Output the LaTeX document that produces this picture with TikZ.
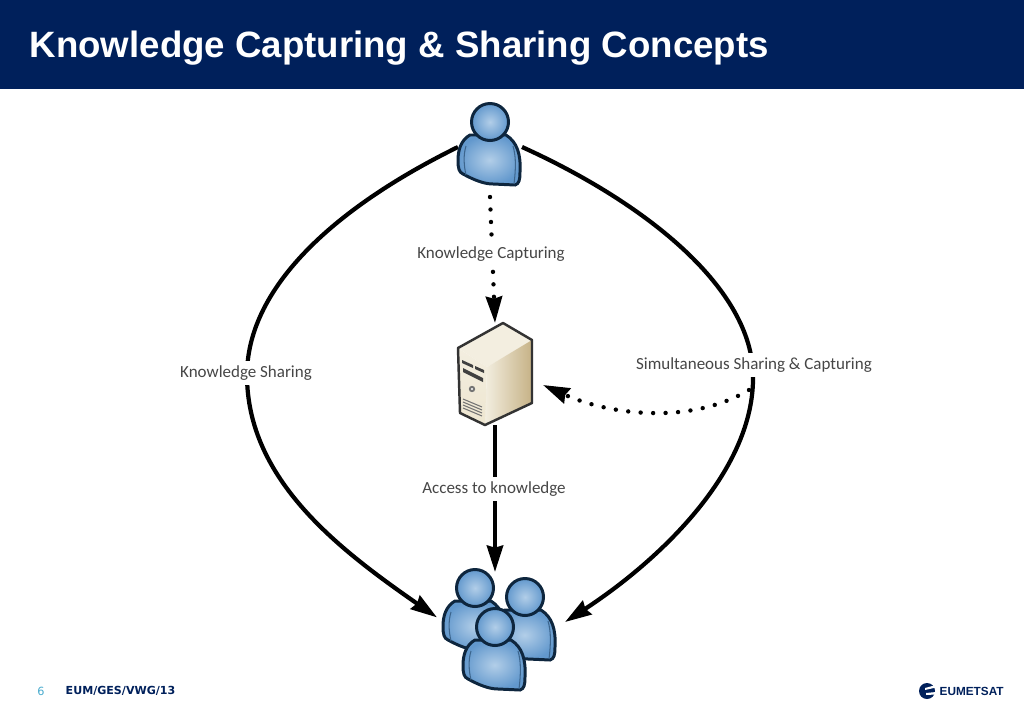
\documentclass[tikz,border=0pt]{standalone}
\usepackage{fontspec}
\usetikzlibrary{arrows.meta}
\newfontfamily\labelfont{Carlito}
\newfontfamily\titlefont{Liberation Sans}
\newfontfamily\footfont{DejaVu Sans}
\definecolor{navy}{RGB}{0,32,91}
\definecolor{inkblue}{RGB}{14,38,62}
\definecolor{labelgrey}{RGB}{70,70,70}
\definecolor{pagenum}{RGB}{70,170,205}
\definecolor{personlight}{RGB}{178,206,232}
\definecolor{personmid}{RGB}{98,152,205}
\definecolor{servertop}{RGB}{243,238,224}
\definecolor{serverside}{RGB}{198,178,134}
\definecolor{serverfront}{RGB}{238,230,208}
\tikzset{
	person/.pic={
		\shadedraw[personskin] (-20,13) .. controls (-29,18) and (-32,28) .. (-32,38) .. controls (-32,47) and (-31,50) .. (-27,52) .. controls (-16,58) and (-6,62) .. (3,62) -- (25,63) .. controls (29,62) and (30,58) .. (30,50) .. controls (31,32) and (27,20) .. (16,13) -- cycle;
		\draw[inkblue!45!personmid, line width=0.3pt] (-24,24) .. controls (-27,34) and (-26,44) .. (-24,53);
		\draw[inkblue!45!personmid, line width=0.3pt] (23,24) .. controls (26,34) and (26,46) .. (24,62);
		\shadedraw[personskin] (0,0) circle (18.5);
	},
	iconbox/.style={minimum width=#1, inner sep=0pt, outer sep=0pt},
	personskin/.style={draw=inkblue, line width=0.85pt, inner color=personlight, outer color=personmid},
	sharing/.style={draw=black, line width=1.2pt, -{Stealth[length=7.5pt, width=4.6pt, inset=0.6pt]}},
	capturing/.style={sharing, line width=1.25pt, line cap=round, dash pattern=on 0pt off 3.55pt},
	tag/.style={fill=white, text=labelgrey, inner sep=1.2pt, font=\labelfont\fontsize{4.83}{5.5}\selectfont},
}
\begin{document}
\begin{tikzpicture}[x=0.01cm, y=-0.01cm]
	\useasboundingbox (0,0) rectangle (1024,709);
	\fill[navy] (0,0) rectangle (1024,89);
	\node[anchor=west, text=white, inner sep=0pt, font=\titlefont\bfseries\fontsize{10.42}{12}\selectfont] (title) at (29,48.5) {Knowledge Capturing \& Sharing Concepts};

	\node[iconbox=0.64cm, minimum height=0.8cm] (user) at (490,147) {};
	\node[iconbox=0.74cm, minimum height=1.02cm] (server) at (495,374) {};
	\node[iconbox=1.28cm, minimum height=1.18cm] (group) at (501,631) {};
	\coordinate (meet) at (749,390);
	\coordinate (serverin) at (543,385);

	\draw[sharing] (user.west) .. controls (330,210) and (247,290) .. (247,375) .. controls (247,480) and (340,550) .. (group.168);
	\draw[sharing] (user.east) .. controls (650,205) and (752,290) .. (753,375) .. controls (755,470) and (660,560) .. (group.8);
	\draw[capturing] (user.south) ++(0,10) -- (server.north);
	\draw[sharing] (server.south) -- (server.south |- group.north);
	\draw[capturing] (meet) .. controls (690,425) and (610,415) .. (serverin);

	\node[tag] (capture) at (491,254) {Knowledge Capturing};
	\node[tag] (sharelabel) at (246,373) {Knowledge Sharing};
	\node[tag] (simul) at (754,365) {Simultaneous Sharing \& Capturing};
	\node[tag] (access) at (494,489) {Access to knowledge};

	\pic at (490,122) {person};
	\pic at (475,588) {person};
	\pic at (525,597) {person};
	\pic at (495,627) {person};

	\fill[servertop] (458,348) -- (503,323) -- (532,340) -- (487,367) -- cycle;
	\shade[left color=servertop, right color=serverside] (487,367) -- (532,340) -- (532,403) -- (485,425) -- cycle;
	\shade[top color=servertop, bottom color=serverfront] (458,348) -- (487,367) -- (485,425) -- (460,413) -- cycle;
	\draw[black!80, line width=0.7pt, line join=round] (458,348) -- (503,323) -- (532,340) -- (532,403) -- (485,425) -- (460,413) -- cycle;
	\fill[black!75] (462,360) -- (473,365) -- (473,368) -- (462,363) -- cycle;
	\fill[black!75] (475,366) -- (484,370) -- (484,373) -- (475,369) -- cycle;
	\fill[black!75] (463,368) -- (483,378) -- (483,382) -- (463,372) -- cycle;
	\fill[black!55] (472,389) circle (3.2);
	\fill[white] (472,389) circle (1.2);
	\foreach \ventrow in {0,3,6,9}
		\draw[black!55, line width=0.3pt] (463,399+\ventrow) -- (482,407+\ventrow);

	\node[text=pagenum, inner sep=0pt, font=\footfont\fontsize{3.2}{4}\selectfont] (pagenr) at (41,691) {6};
	\node[anchor=west, text=navy, inner sep=0pt, font=\footfont\bfseries\fontsize{3.15}{4}\selectfont] (docref) at (65,691) {EUM/GES/VWG/13};
	\fill[navy] (927,691) circle (8);
	\fill[white] (925,688) -- (936,685) -- (936,687.5) -- (925,690) -- cycle;
	\fill[white] (926,693) -- (936,692) -- (936,694.5) -- (926,695) -- cycle;
	\node[anchor=west, text=navy, inner sep=0pt, font=\titlefont\bfseries\fontsize{3.35}{4}\selectfont] (eumetsat) at (939,691) {EUMETSAT};
\end{tikzpicture}
\end{document}
